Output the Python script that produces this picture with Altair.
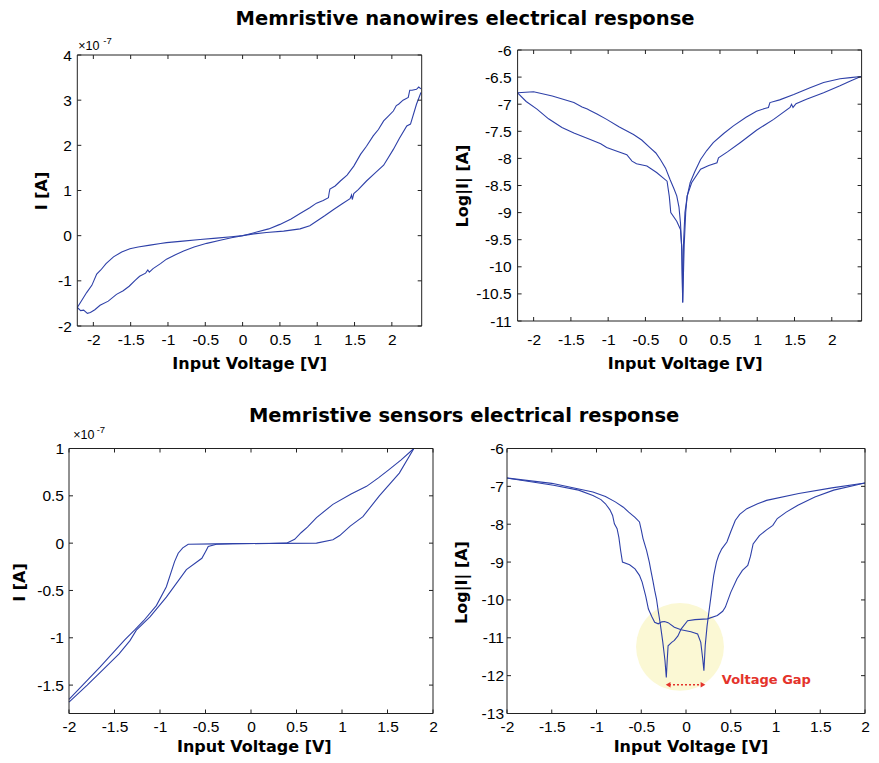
import altair as alt
import pandas as pd

BLUE = "#2E40A8"
RED = "#E4332B"
YELLOW = "#FBF8D4"
BOX = "#222222"

# ---------------- data ----------------
# Top-left: nanowires, I [x1e-7 A] vs V
tl_b1_v = [-2.215, -2.15, -2.09, -2.02, -1.955, -1.90, -1.83, -1.73, -1.62, -1.51, -1.40, -1.24, -1.10, -1.02,
           -0.80, -0.57, -0.35, -0.15, 0.0, 0.15, 0.32, 0.55, 0.77, 0.90, 0.99, 1.10, 1.22, 1.33, 1.44, 1.46,
           1.47, 1.49, 1.55, 1.66, 1.77, 1.89, 2.02, 2.10, 2.20, 2.25, 2.33, 2.39]
tl_b1_i = [-1.59, -1.42, -1.26, -1.10, -0.85, -0.76, -0.62, -0.47, -0.36, -0.29, -0.25, -0.21, -0.175, -0.155,
           -0.12, -0.085, -0.055, -0.025, 0.0, 0.04, 0.07, 0.10, 0.15, 0.22, 0.32, 0.44, 0.58, 0.70, 0.82, 0.90,
           0.80, 0.93, 1.02, 1.21, 1.38, 1.56, 1.91, 2.15, 2.43, 2.47, 2.91, 3.17]
tl_b2_v = [-2.215, -2.17, -2.13, -2.08, -2.04, -1.98, -1.91, -1.80, -1.69, -1.60, -1.52, -1.44, -1.38, -1.30,
           -1.27, -1.25, -1.20, -1.10, -1.02, -0.90, -0.79, -0.65, -0.48, -0.30, -0.15, 0.0, 0.19, 0.35, 0.50,
           0.65, 0.77, 0.90, 0.99, 1.08, 1.15, 1.16, 1.17, 1.24, 1.31, 1.40, 1.49, 1.58, 1.66, 1.75, 1.82, 1.89,
           1.95, 2.02, 2.06, 2.09, 2.15, 2.22, 2.24, 2.27, 2.33, 2.36, 2.39]
tl_b2_i = [-1.59, -1.66, -1.65, -1.72, -1.70, -1.64, -1.54, -1.45, -1.30, -1.22, -1.12, -0.99, -0.90, -0.83,
           -0.76, -0.81, -0.73, -0.62, -0.52, -0.42, -0.34, -0.25, -0.17, -0.10, -0.045, 0.0, 0.08, 0.15, 0.25,
           0.37, 0.49, 0.62, 0.72, 0.78, 0.84, 0.95, 1.03, 1.10, 1.21, 1.34, 1.54, 1.80, 1.98, 2.21, 2.35, 2.54,
           2.64, 2.76, 2.88, 2.91, 3.00, 3.06, 3.22, 3.22, 3.24, 3.29, 3.25]

# Top-right: nanowires, log|I| vs V
tr_b1_v = [-2.215, -2.0, -1.75, -1.46, -1.35, -1.28, -1.25, -1.15, -1.02, -0.85, -0.66, -0.55, -0.44, -0.36,
           -0.30, -0.23, -0.17, -0.12, -0.08, -0.05, -0.03, -0.015, 0.0, 0.01, 0.03, 0.06, 0.10, 0.16, 0.24,
           0.32, 0.41, 0.55, 0.68, 0.85, 0.99, 1.10, 1.15, 1.17, 1.30, 1.49, 1.70, 1.89, 2.11, 2.25, 2.39]
tr_b1_l = [-6.79, -6.77, -6.85, -6.97, -7.05, -7.09, -7.11, -7.18, -7.28, -7.42, -7.56, -7.66, -7.80, -7.90,
           -8.02, -8.18, -8.39, -8.55, -8.69, -8.90, -9.19, -9.60, -10.66, -9.60, -9.00, -8.70, -8.45, -8.25,
           -8.02, -7.86, -7.71, -7.54, -7.40, -7.24, -7.13, -7.08, -7.06, -6.97, -6.92, -6.82, -6.70, -6.60,
           -6.53, -6.51, -6.49]
tr_b2_v = [-2.215, -2.10, -1.955, -1.80, -1.62, -1.46, -1.35, -1.24, -1.10, -1.02, -0.90, -0.75, -0.68, -0.62,
           -0.48, -0.35, -0.21, -0.18, -0.16, -0.08, -0.03, -0.01, 0.0, 0.02, 0.04, 0.06, 0.12, 0.24, 0.35,
           0.46, 0.48, 0.60, 0.77, 0.99, 1.22, 1.44, 1.46, 1.48, 1.52, 1.66, 1.89, 2.11, 2.25, 2.39]
tr_b2_l = [-6.79, -6.95, -7.09, -7.27, -7.43, -7.53, -7.59, -7.65, -7.73, -7.80, -7.86, -7.93, -8.05, -8.10,
           -8.14, -8.26, -8.42, -8.70, -9.00, -9.16, -9.31, -9.70, -10.66, -9.60, -9.00, -8.69, -8.45, -8.20,
           -8.13, -8.08, -7.99, -7.88, -7.71, -7.48, -7.28, -7.06, -7.00, -7.06, -6.99, -6.91, -6.79, -6.66,
           -6.57, -6.49]

# Bottom-left: sensors, I [x1e-7 A] vs V
bl_b1_v = [-2.0, -1.80, -1.66, -1.50, -1.385, -1.28, -1.18, -1.04, -0.93, -0.84, -0.80, -0.75, -0.69, -0.40,
           -0.196, 0.20, 0.39, 0.48, 0.55, 0.62, 0.72, 0.90, 1.10, 1.27, 1.40, 1.52, 1.65, 1.79]
bl_b1_i = [-1.65, -1.45, -1.31, -1.14, -1.02, -0.92, -0.82, -0.66, -0.46, -0.195, -0.106, -0.05, -0.011, -0.008,
           -0.007, -0.003, 0.0, 0.04, 0.11, 0.17, 0.27, 0.41, 0.52, 0.60, 0.69, 0.78, 0.88, 1.0]
bl_b2_v = [-2.0, -1.80, -1.62, -1.45, -1.33, -1.26, -1.11, -0.93, -0.71, -0.54, -0.50, -0.47, -0.38, -0.20,
           0.30, 0.72, 0.90, 0.975, 1.09, 1.23, 1.41, 1.63, 1.79]
bl_b2_i = [-1.68, -1.50, -1.33, -1.17, -1.03, -0.92, -0.78, -0.57, -0.28, -0.16, -0.09, -0.035, -0.011, -0.005,
           -0.002, 0.0, 0.035, 0.08, 0.18, 0.28, 0.50, 0.74, 1.0]

# Bottom-right: sensors, log|I| vs V
br_b1_v = [-2.0, -1.48, -1.20, -1.04, -0.95, -0.90, -0.85, -0.82, -0.80, -0.77, -0.75, -0.73, -0.71, -0.63,
           -0.57, -0.52, -0.49, -0.45, -0.42, -0.38, -0.35, -0.31, -0.27, -0.24, -0.20, -0.13, -0.055, 0.055,
           0.13, 0.165, 0.187, 0.20, 0.215, 0.235, 0.256, 0.285, 0.31, 0.34, 0.365, 0.40, 0.457, 0.50, 0.55,
           0.60, 0.68, 0.80, 0.90, 1.26, 1.63, 2.0]
br_b1_l = [-6.78, -6.97, -7.10, -7.24, -7.35, -7.46, -7.62, -7.77, -7.99, -8.12, -8.35, -8.70, -9.00, -9.07,
           -9.18, -9.35, -9.53, -9.90, -10.24, -10.45, -10.59, -10.63, -10.58, -10.57, -10.60, -10.72, -10.79,
           -10.84, -10.90, -11.12, -11.56, -11.87, -11.20, -10.70, -10.32, -9.80, -9.35, -9.00, -8.82, -8.65,
           -8.47, -8.20, -7.90, -7.74, -7.59, -7.46, -7.37, -7.19, -7.04, -6.91]
br_b2_v = [-2.0, -1.5, -1.04, -0.90, -0.79, -0.70, -0.64, -0.57, -0.52, -0.50, -0.48, -0.44, -0.41, -0.39,
           -0.37, -0.35, -0.33, -0.31, -0.29, -0.26, -0.235, -0.22, -0.21, -0.20, -0.16, -0.13, -0.09, -0.055,
           0.018, 0.10, 0.24, 0.35, 0.41, 0.44, 0.50, 0.57, 0.63, 0.69, 0.72, 0.75, 0.82, 0.90, 0.97, 1.02,
           1.12, 1.25, 1.44, 1.65, 2.0]
br_b2_l = [-6.78, -6.92, -7.15, -7.27, -7.41, -7.55, -7.68, -7.82, -7.94, -8.15, -8.38, -8.70, -9.00, -9.25,
           -9.49, -9.75, -9.97, -10.30, -10.59, -11.10, -11.60, -12.05, -11.60, -11.21, -11.12, -11.07, -10.95,
           -10.77, -10.55, -10.52, -10.50, -10.41, -10.30, -10.19, -9.80, -9.44, -9.22, -9.09, -8.85, -8.52,
           -8.30, -8.15, -8.03, -7.85, -7.68, -7.50, -7.28, -7.10, -6.91]

# ticks
x_ticks = [-2, -1.5, -1, -0.5, 0, 0.5, 1, 1.5, 2]
tl_y_ticks = [-2, -1, 0, 1, 2, 3, 4]
tr_y_ticks = [-11, -10.5, -10, -9.5, -9, -8.5, -8, -7.5, -7, -6.5, -6]
bl_y_ticks = [-1.5, -1, -0.5, 0, 0.5, 1]
br_y_ticks = [-13, -12, -11, -10, -9, -8, -7, -6]

# annotation (bottom-right)
gap_circle = {"V": [-0.067], "Y": [-11.24]}
gap_arrow = {"x1": [-0.19], "x2": [0.18], "y": [-12.24]}
gap_heads = {"V": [-0.20, 0.19], "Y": [-12.24, -12.24], "shape": ["triangle-left", "triangle-right"]}
gap_label = {"V": [0.40], "Y": [-12.11], "t": ["Voltage Gap"]}

LABEL_FONT = "Liberation Sans"
TITLE_FONT = "DejaVu Sans"
LABEL_EXPR = "'' + datum.value"


def lines_df(b1v, b1y, b2v, b2y):
    return pd.concat([
        pd.DataFrame({"V": b1v, "Y": b1y, "branch": "a"}),
        pd.DataFrame({"V": b2v, "Y": b2y, "branch": "b"}),
    ], ignore_index=True)


def panel(df, xdom, ydom, yt, w, h, xrange, yrange, yoffset, ytitle, ytx, yty, xtx, xty, ylp, xlp,
          expo=None, under=None, over=None):
    xs_kw = dict(domain=xdom, nice=False, zero=False)
    if xrange is not None:
        xs_kw["range"] = xrange
    xs = alt.Scale(**xs_kw)
    ys_kw = dict(domain=ydom, nice=False, zero=False)
    if yrange is not None:
        ys_kw["range"] = yrange
    ys = alt.Scale(**ys_kw)
    xa = alt.Axis(values=x_ticks, title="Input Voltage [V]", domain=False, ticks=False, tickSize=0,
                  grid=False, labelFont=LABEL_FONT, labelFontSize=15.5, labelColor="black",
                  labelPadding=xlp, labelFlush=False, labelOverlap=False, labelExpr=LABEL_EXPR,
                  titleFont=TITLE_FONT, titleFontSize=16, titleFontWeight="bold", titleColor="black",
                  titleX=xtx, titleY=xty, titleAlign="center", titleBaseline="middle")
    ya_kw = dict(values=yt, title=ytitle, domain=False, ticks=False, tickSize=0,
                 grid=False, labelFont=LABEL_FONT, labelFontSize=15.5, labelColor="black",
                 labelPadding=ylp, labelFlush=False, labelOverlap=False, labelExpr=LABEL_EXPR,
                 titleFont=TITLE_FONT, titleFontSize=16, titleFontWeight="bold", titleColor="black",
                 titleX=ytx, titleY=yty, titleAngle=270, titleAlign="center", titleBaseline="middle")
    if yoffset:
        ya_kw["offset"] = yoffset
    ya = alt.Axis(**ya_kw)

    def X(f):
        return alt.X(f, type="quantitative", scale=xs, axis=xa)

    def Y(f):
        return alt.Y(f, type="quantitative", scale=ys, axis=ya)

    layers = []
    if under is not None:
        layers += under(X, Y)
    layers.append(
        alt.Chart(df).mark_line(color=BLUE, strokeWidth=1.1, clip=True)
        .encode(x=X("V"), y=Y("Y"), detail="branch:N")
    )
    box = pd.DataFrame({
        "x1": [xdom[0], xdom[0], xdom[0], xdom[1]],
        "x2": [xdom[1], xdom[1], xdom[0], xdom[1]],
        "y1": [ydom[0], ydom[1], ydom[0], ydom[0]],
        "y2": [ydom[0], ydom[1], ydom[1], ydom[1]],
    })
    layers.append(alt.Chart(box).mark_rule(color=BOX, strokeWidth=1)
                  .encode(x=X("x1"), x2="x2", y=Y("y1"), y2="y2"))
    xt_bot = pd.DataFrame({"t": x_ticks, "yv": [ydom[0]] * len(x_ticks)})
    xt_top = pd.DataFrame({"t": x_ticks, "yv": [ydom[1]] * len(x_ticks)})
    yt_l = pd.DataFrame({"t": yt, "xv": [xdom[0]] * len(yt)})
    yt_r = pd.DataFrame({"t": yt, "xv": [xdom[1]] * len(yt)})
    layers.append(alt.Chart(xt_bot).mark_rule(color=BOX, y2Offset=-4)
                  .encode(x=X("t"), y=Y("yv"), y2="yv"))
    layers.append(alt.Chart(xt_top).mark_rule(color=BOX, y2Offset=4)
                  .encode(x=X("t"), y=Y("yv"), y2="yv"))
    layers.append(alt.Chart(yt_l).mark_rule(color=BOX, x2Offset=4)
                  .encode(y=Y("t"), x=X("xv"), x2="xv"))
    layers.append(alt.Chart(yt_r).mark_rule(color=BOX, x2Offset=-4)
                  .encode(y=Y("t"), x=X("xv"), x2="xv"))
    if expo is not None:
        dx1, dy1, dx2, dy2 = expo
        corner = pd.DataFrame({"x": [xdom[0]], "y": [ydom[1]]})
        layers.append(alt.Chart(corner).mark_text(text="×10", align="left", baseline="alphabetic",
                                                  dx=dx1, dy=dy1, fontSize=12.5, font=LABEL_FONT, color="black")
                      .encode(x=X("x"), y=Y("y")))
        layers.append(alt.Chart(corner).mark_text(text="-7", align="left", baseline="alphabetic",
                                                  dx=dx2, dy=dy2, fontSize=9.5, font=LABEL_FONT, color="black")
                      .encode(x=X("x"), y=Y("y")))
    if over is not None:
        layers += over(X, Y)
    return alt.layer(*layers).properties(width=w, height=h)


def gap_under(X, Y):
    return [alt.Chart(pd.DataFrame(gap_circle))
            .mark_point(shape="circle", filled=True, size=7730, color=YELLOW, opacity=1, strokeWidth=0)
            .encode(x=X("V"), y=Y("Y"))]


def gap_over(X, Y):
    return [
        alt.Chart(pd.DataFrame(gap_arrow)).mark_rule(color=RED, strokeDash=[2, 2], strokeWidth=1.5)
        .encode(x=X("x1"), x2="x2", y=Y("y")),
        alt.Chart(pd.DataFrame(gap_heads)).mark_point(filled=True, color=RED, size=30, opacity=1)
        .encode(x=X("V"), y=Y("Y"), shape=alt.Shape("shape:N", scale=None)),
        alt.Chart(pd.DataFrame(gap_label)).mark_text(align="left", baseline="middle", color=RED,
                                                     fontSize=13, fontWeight="bold", font=TITLE_FONT)
        .encode(x=X("V"), y=Y("Y"), text="t:N"),
    ]


# Row 1
H1 = 276
p1 = panel(lines_df(tl_b1_v, tl_b1_i, tl_b2_v, tl_b2_i), [-2.215, 2.4], [-2, 4], tl_y_ticks,
           414, H1, [69.3, 413.7], [H1, 5], -69.3, "I [A]", -36.3, 140.5, 241.2, 37.3, 6, 6,
           expo=(1, -4.7, 26, -10.7))
p2 = panel(lines_df(tr_b1_v, tr_b1_l, tr_b2_v, tr_b2_l), [-2.215, 2.4], [-11, -6], tr_y_ticks,
           344, H1, None, [H1 - 5, 0], 0, "Log|I| [A]", -55.3, 135.5, 167, 37.3, 6.5, 6)

# Row 2
H2 = 265
p3 = panel(lines_df(bl_b1_v, bl_b1_i, bl_b2_v, bl_b2_i), [-2, 2], [-1.8, 1], bl_y_ticks,
           425, H2, [61, 425], None, -61, "I [A]", -49.5, 133.5, 245.8, 33, 5.5, 5.5,
           expo=(4.3, -9.3, 27.7, -15.3))
p4 = panel(lines_df(br_b1_v, br_b1_l, br_b2_v, br_b2_l), [-2, 2], [-13, -6], br_y_ticks,
           358, H2, None, None, 0, "Log|I| [A]", -45.3, 133.5, 183.5, 33, 3.5, 5.5,
           under=gap_under, over=gap_over)

row_title = dict(anchor="middle", font=TITLE_FONT, fontSize=19.5, fontWeight="bold", color="black")
row1 = alt.hconcat(p1, p2, spacing=95.6, bounds="flush",
                   title=alt.TitleParams("Memristive nanowires electrical response", offset=6.5, dx=30,
                                         **row_title))
row2 = alt.hconcat(p3, p4, spacing=74, bounds="flush",
                   title=alt.TitleParams("Memristive sensors electrical response", offset=-1, dx=25.4,
                                         **row_title))

chart = (
    alt.vconcat(row1, row2, spacing=33.5, center=False)
    .properties(padding={"left": 0, "top": 1, "right": 0, "bottom": 0})
    .configure_view(stroke=None)
)

chart.save("out.html", embed_options={"renderer": "svg", "actions": False})
